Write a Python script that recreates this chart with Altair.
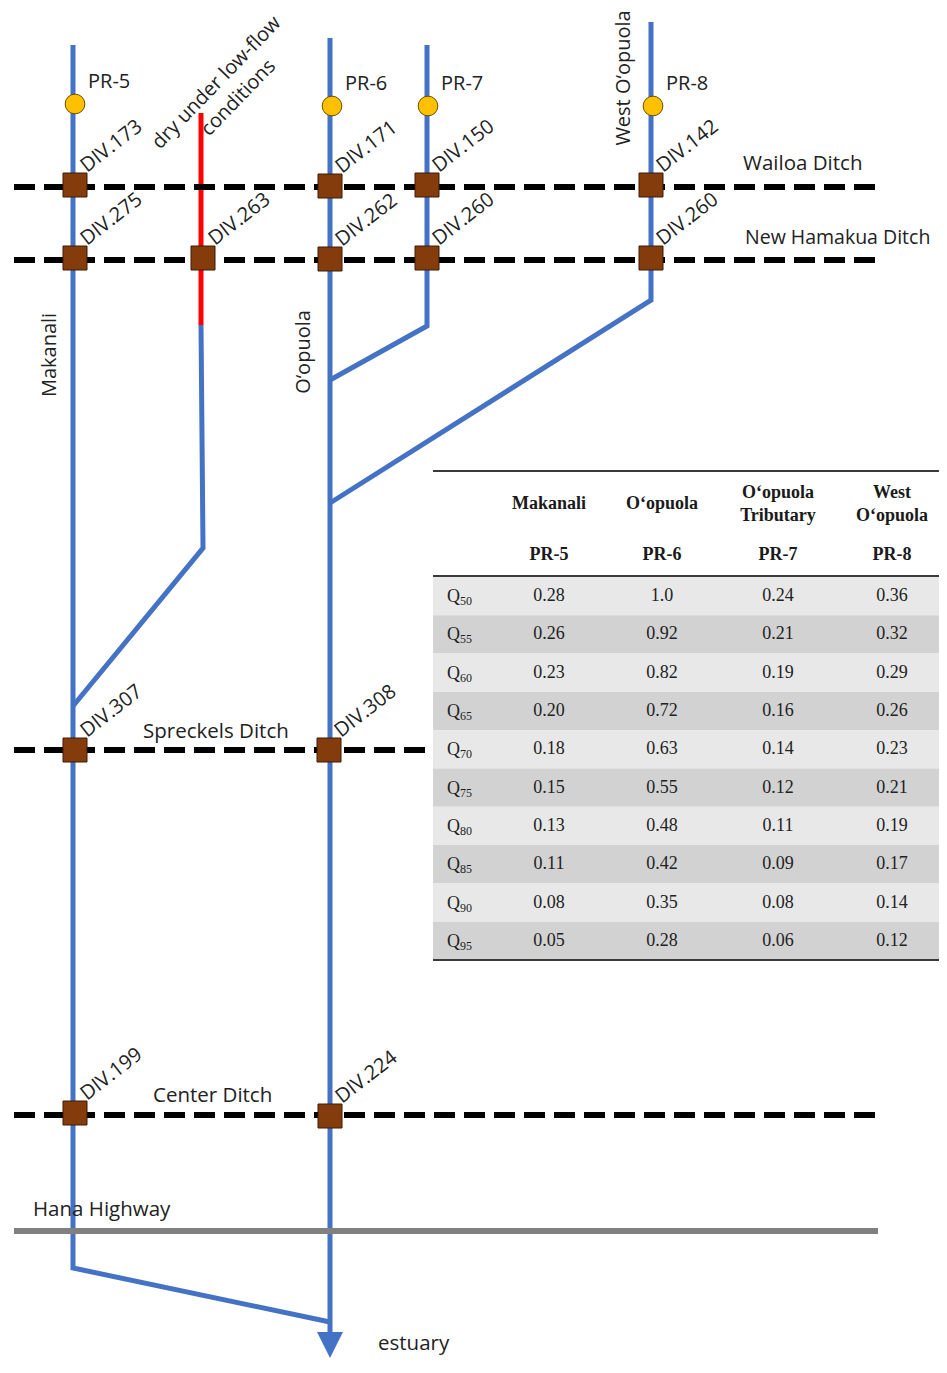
import altair as alt
import pandas as pd

# ---------------- data: schematic network (reference pixel space) ----------------
# stream centre-lines, as vertex lists
stream_paths = {
    "Makanali": ([73, 73, 330], [45, 1268, 1322]),
    "O‘opuola": ([330, 330], [38, 1335]),
    "O‘opuola Tributary": ([427, 427, 330], [45, 326, 380]),
    "West O‘opuola": ([651, 651, 330], [22, 300, 503]),
    "dry reach (lower)": ([201, 203, 73], [325, 548, 706]),
}
dry_reach_x = [201, 201]
dry_reach_y = [113, 325]

# ditches
ditch_names = ["Wailoa Ditch", "New Hamakua Ditch", "Spreckels Ditch", "Center Ditch"]
ditch_y = [187, 260, 750, 1115]
ditch_x0 = [14, 14, 14, 14]
ditch_x1 = [878, 878, 430, 878]
ditch_label_x = [743, 745, 143, 153]
ditch_label_y = [164, 238, 732, 1096]

highway_name = "Hana Highway"
highway_y = 1231
highway_x0, highway_x1 = 14, 878

# diversions
div_names = ["DIV.173", "DIV.171", "DIV.150", "DIV.142",
             "DIV.275", "DIV.263", "DIV.262", "DIV.260", "DIV.260",
             "DIV.307", "DIV.308", "DIV.199", "DIV.224"]
div_x = [75, 330, 427, 651, 75, 203, 330, 427, 651, 75, 329, 75, 330]
div_y = [185, 186, 185, 185, 258, 258, 259, 258, 258, 750, 750, 1113, 1116]

# gauges
gauge_names = ["PR-5", "PR-6", "PR-7", "PR-8"]
gauge_x = [75, 332, 428, 653]
gauge_y = [104, 106, 106, 106]

stream_label_names = ["Makanali", "O‘opuola", "West O‘opuola"]
stream_label_x = [50, 304, 624]
stream_label_y = [355, 352, 78]

# ---------------- data: flow-duration table ----------------
table_streams_l1 = ["Makanali", "O‘opuola", "O‘opuola", "West"]
table_streams_l2 = ["", "", "Tributary", "O‘opuola"]
table_gauges = ["PR-5", "PR-6", "PR-7", "PR-8"]
quantiles = ["50", "55", "60", "65", "70", "75", "80", "85", "90", "95"]
pr5 = ["0.28", "0.26", "0.23", "0.20", "0.18", "0.15", "0.13", "0.11", "0.08", "0.05"]
pr6 = ["1.0", "0.92", "0.82", "0.72", "0.63", "0.55", "0.48", "0.42", "0.35", "0.28"]
pr7 = ["0.24", "0.21", "0.19", "0.16", "0.14", "0.12", "0.11", "0.09", "0.08", "0.06"]
pr8 = ["0.36", "0.32", "0.29", "0.26", "0.23", "0.21", "0.19", "0.17", "0.14", "0.12"]

# ---------------- layout ----------------
W, H = 931, 1351
X0, Y0 = 8, 8
xs = alt.Scale(domain=[X0, X0 + W], nice=False, zero=False)
ys = alt.Scale(domain=[Y0, Y0 + H], nice=False, zero=False, reverse=True)
SANS = "Open Sans"
SERIF = "Liberation Serif"
BLUE = "#4472C4"
INK = "#222222"

def enc(chart, **kw):
    return chart.encode(x=alt.X("x:Q", scale=xs, axis=None),
                        y=alt.Y("y:Q", scale=ys, axis=None), **kw)

def texts(df, **mk):
    return enc(alt.Chart(df).mark_text(**mk), text="text:N")

# streams
rows = []
for name, (px, py) in stream_paths.items():
    for i, (a, b) in enumerate(zip(px, py)):
        rows.append({"path": name, "order": i, "x": a, "y": b})
streams_df = pd.DataFrame(rows)
streams = enc(alt.Chart(streams_df).mark_line(color=BLUE, strokeWidth=5, strokeJoin="miter"),
              detail="path:N", order="order:Q")
dry_df = pd.DataFrame({"x": dry_reach_x, "y": dry_reach_y, "order": [0, 1]})
dry = enc(alt.Chart(dry_df).mark_line(color="#FF0000", strokeWidth=5), order="order:Q")

arrow_df = pd.DataFrame({"x": [stream_paths["O‘opuola"][0][-1]],
                         "y": [stream_paths["O‘opuola"][1][-1] + 10]})
arrow = enc(alt.Chart(arrow_df).mark_point(shape="M-1,-1L1,-1L0,1Z", filled=True, color=BLUE,
                                            opacity=1, size=676))

ditch_df = pd.DataFrame({"name": ditch_names, "x": ditch_x0, "x2": ditch_x1, "y": ditch_y})
ditches = enc(alt.Chart(ditch_df).mark_rule(color="black", strokeWidth=6, strokeDash=[21, 9]),
              x2="x2:Q")
hw_df = pd.DataFrame({"x": [highway_x0], "x2": [highway_x1], "y": [highway_y]})
highway = enc(alt.Chart(hw_df).mark_rule(color="#808080", strokeWidth=6), x2="x2:Q")

div_df = pd.DataFrame({"text": div_names, "x": div_x, "y": div_y})
divs = enc(alt.Chart(div_df).mark_square(size=576, fill="#843C0C", stroke="#3b1a06",
                                         strokeWidth=1, opacity=1))
div_lab = texts(div_df.assign(x=div_df.x + 12, y=div_df.y - 12),
                align="left", baseline="alphabetic", angle=322, font=SANS, fontSize=20, color=INK)

g_df = pd.DataFrame({"text": gauge_names, "x": gauge_x, "y": gauge_y})
gauges = enc(alt.Chart(g_df).mark_circle(size=390, fill="#FFC000", stroke="#6b5000",
                                         strokeWidth=1, opacity=1))
g_lab = texts(g_df.assign(x=g_df.x + 13, y=g_df.y - 22),
              align="left", baseline="middle", font=SANS, fontSize=20, color=INK)

s_lab = texts(pd.DataFrame({"text": stream_label_names, "x": stream_label_x, "y": stream_label_y}),
              align="center", baseline="middle", angle=270, font=SANS, fontSize=20, color=INK)

wide_names = [n for n in ditch_names if n != "New Hamakua Ditch"]
d_lab = texts(pd.DataFrame({"text": wide_names + [highway_name, "estuary"],
                            "x": [x for n, x in zip(ditch_names, ditch_label_x) if n in wide_names] + [33, 378],
                            "y": [y for n, y in zip(ditch_names, ditch_label_y) if n in wide_names] + [1210, 1344]}),
              align="left", baseline="middle", font=SANS, fontSize=20.5, color=INK)
nh_lab = texts(pd.DataFrame({"text": ["New Hamakua Ditch"],
                             "x": [ditch_label_x[1]], "y": [ditch_label_y[1]]}),
               align="left", baseline="middle", font=SANS, fontSize=19.5, color=INK)

dry_lab = texts(pd.DataFrame({"text": ["dry under low-flow", "conditions"],
                              "x": [160, 209], "y": [150, 137]}),
                align="left", baseline="alphabetic", angle=314, font=SANS, fontSize=20, color=INK)

# table
TX0, TX1 = 433, 947
col_x = [549, 662, 778, 892]
row_top, row_h = 577, 38.3
band_df = pd.DataFrame({
    "x": [TX0] * len(quantiles), "x2": [TX1] * len(quantiles),
    "y": [row_top + i * row_h for i in range(len(quantiles))],
    "y2": [row_top + (i + 1) * row_h for i in range(len(quantiles))],
    "shade": ["a" if i % 2 == 0 else "b" for i in range(len(quantiles))],
})
bands = enc(alt.Chart(band_df).mark_rect(opacity=1), x2="x2:Q", y2="y2:Q",
            color=alt.Color("shade:N", scale=alt.Scale(domain=["a", "b"], range=["#e8e8e8", "#d2d2d2"]),
                            legend=None))
rule_df = pd.DataFrame({"x": [TX0] * 3, "x2": [TX1] * 3, "y": [471, 576, 960]})
trules = enc(alt.Chart(rule_df).mark_rule(color="#3a3a3a", strokeWidth=2), x2="x2:Q")

hdr_rows = []
for cx, l1, l2, g in zip(col_x, table_streams_l1, table_streams_l2, table_gauges):
    if l2:
        hdr_rows += [{"text": l1, "x": cx, "y": 493}, {"text": l2, "x": cx, "y": 516}]
    else:
        hdr_rows += [{"text": l1, "x": cx, "y": 504}]
    hdr_rows.append({"text": g, "x": cx, "y": 555})
hdr = texts(pd.DataFrame(hdr_rows), align="center", baseline="middle", font=SERIF,
            fontSize=18, fontWeight="bold", color="#1a1a1a")

row_c = [row_top + (i + 0.5) * row_h for i in range(len(quantiles))]
q_df = pd.DataFrame({"text": ["Q"] * len(quantiles), "x": [447] * len(quantiles), "y": row_c})
qlab = texts(q_df.assign(y=q_df.y + 6), align="left", baseline="alphabetic", font=SERIF,
             fontSize=18, color=INK)
qsub = texts(pd.DataFrame({"text": quantiles, "x": [460] * len(quantiles),
                           "y": [c + 9 for c in row_c]}),
             align="left", baseline="alphabetic", font=SERIF, fontSize=12, color=INK)
val_rows = []
for cx, col in zip(col_x, [pr5, pr6, pr7, pr8]):
    for c, v in zip(row_c, col):
        val_rows.append({"text": v, "x": cx, "y": c})
vals = texts(pd.DataFrame(val_rows), align="center", baseline="middle", font=SERIF,
             fontSize=18, color=INK)

chart = alt.layer(
    bands, trules, streams, dry, arrow, ditches, highway, divs, gauges,
    div_lab, g_lab, s_lab, d_lab, nh_lab, dry_lab, hdr, qlab, qsub, vals,
).properties(width=W, height=H, padding=0, autosize="none").configure_view(stroke=None)

chart.save("out.html", embed_options={"renderer": "svg", "actions": False})
